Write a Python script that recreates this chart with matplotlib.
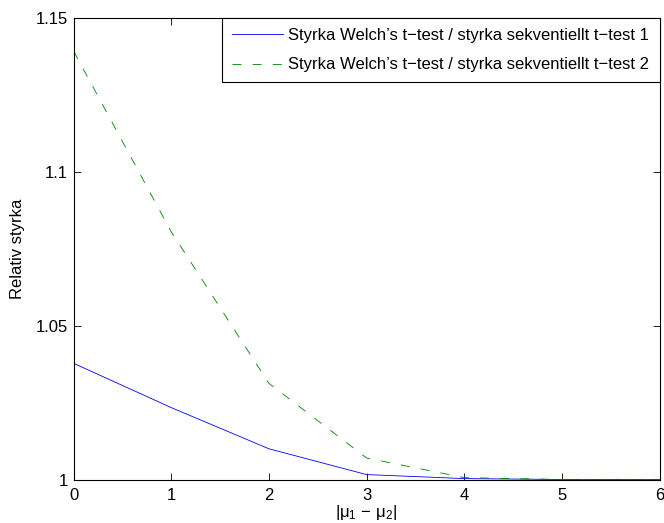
import matplotlib
matplotlib.use('Agg')
import matplotlib.pyplot as plt
from matplotlib.ticker import FuncFormatter

plt.rcParams['font.family'] = ['Liberation Sans', 'DejaVu Sans']
plt.rcParams['mathtext.fontset'] = 'custom'
plt.rcParams['mathtext.rm'] = 'Liberation Sans'
plt.rcParams['mathtext.it'] = 'Liberation Sans'
plt.rcParams['mathtext.bf'] = 'Liberation Sans'
plt.rcParams['lines.scale_dashes'] = False

# difference in means
mu_diff = [0, 1, 2, 3, 4, 5, 6]
# relative power, Welch vs sequential t-test 1 and 2
rel_power_1 = [1.0378, 1.0234, 1.0100, 1.0016, 1.0003, 1.0000, 1.0000]
rel_power_2 = [1.1394, 1.0806, 1.0313, 1.0070, 1.0006, 1.0000, 1.0000]

labels = ["Styrka Welch\u2019s t\u2212test / styrka sekventiellt t\u2212test 1",
          "Styrka Welch\u2019s t\u2212test / styrka sekventiellt t\u2212test 2"]

fig = plt.figure(figsize=(6.64, 5.23), dpi=100)
ax = fig.add_axes([73.5/664, 1 - 479.5/523, 586/664, 461.2/523])

ax.plot(mu_diff, rel_power_1, color=(0, 0, 1), lw=0.6, label=labels[0])
ax.plot(mu_diff, rel_power_2, color=(0, 0.5, 0), lw=0.6,
        linestyle=(0, (6.5, 8)), label=labels[1])

ax.set_xlim(0, 6)
ax.set_ylim(1, 1.15)
ax.set_xticks(range(7))
ax.set_yticks([1, 1.05, 1.1, 1.15])
ax.yaxis.set_major_formatter(FuncFormatter(lambda v, p: '%g' % round(v, 4)))

ax.tick_params(direction='in', top=True, right=True, length=5, width=0.6,
               labelsize=12)
ax.tick_params(axis='x', pad=6)
ax.tick_params(axis='y', pad=4)
for s in ax.spines.values():
    s.set_linewidth(0.8)

ax.set_xlabel(r'$|\mu_1\,-\,\mu_2|$', fontsize=12, labelpad=0)
ax.set_ylabel('Relativ styrka', fontsize=12, labelpad=8)

leg = ax.legend(loc='upper right', borderaxespad=0, fontsize=12,
                fancybox=False, framealpha=1, edgecolor='black',
                handlelength=3.05, handletextpad=0.35, labelspacing=0.85,
                borderpad=0.6)
leg.get_frame().set_linewidth(0.8)

fig.savefig('out.png', dpi=100)
